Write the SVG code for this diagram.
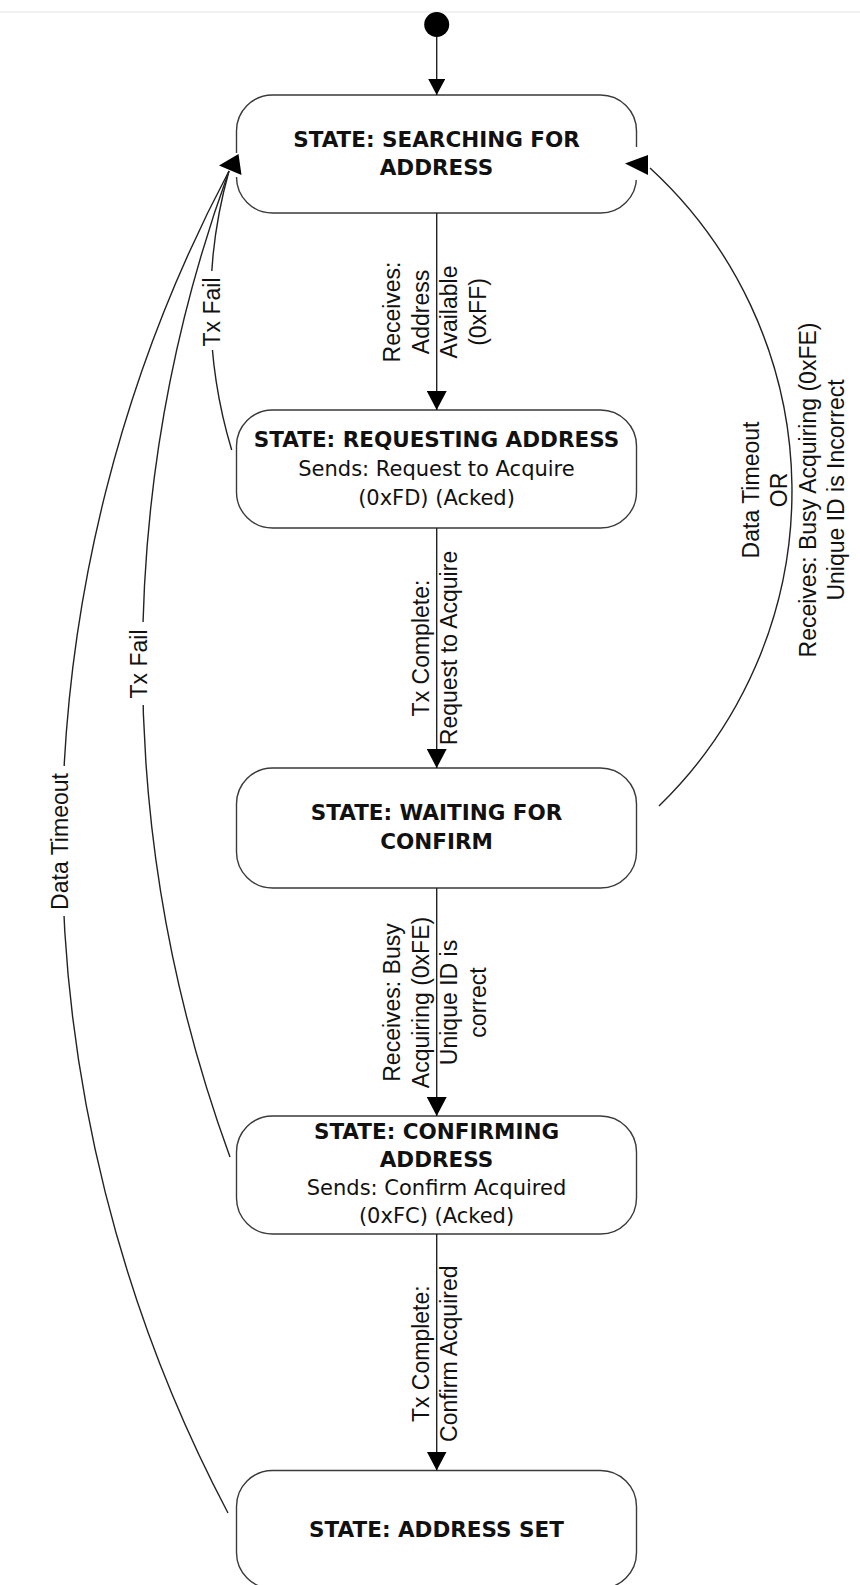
<svg xmlns="http://www.w3.org/2000/svg" width="860" height="1585" viewBox="0 0 860 1585">
  <defs>
    <style>
      .state{fill:#fff;stroke:#3a3a3a;stroke-width:1.4}
      .title{font-family:"DejaVu Sans",Verdana,sans-serif;font-weight:bold;font-size:21.5px;fill:#111;text-anchor:middle}
      .body{font-family:"DejaVu Sans",Verdana,sans-serif;font-size:21px;fill:#111;text-anchor:middle}
      .edge{fill:none;stroke:#222;stroke-width:1.4}
      .lbl{font-family:"Liberation Sans",Arial,sans-serif;font-size:23px;fill:#111;text-anchor:middle}
      .head{fill:#000}
      .knock{stroke:#fff;stroke-width:3}
    </style>
    <marker id="arrow" markerUnits="userSpaceOnUse" markerWidth="19" markerHeight="20" refX="19" refY="10" orient="auto" viewBox="0 0 19 20">
      <path d="M0,0 L19,10 L0,20 z" fill="#000"/>
    </marker>
    <marker id="arrowSmall" markerUnits="userSpaceOnUse" markerWidth="16" markerHeight="17" refX="16" refY="8.5" orient="auto" viewBox="0 0 16 17">
      <path d="M0,0 L16,8.5 L0,17 z" fill="#000"/>
    </marker>
  </defs>

  <rect x="0" y="0" width="860" height="1585" fill="#fff"/>
  <line x1="0" y1="12" x2="860" y2="12" stroke="#ececec" stroke-width="1.5"/>

  <!-- initial pseudo-state -->
  <g id="initial">
    <circle cx="436.7" cy="24.5" r="12.5" fill="#000"/>
  </g>

  <!-- states -->
  <g id="searching">
    <rect class="state" x="236.5" y="95" width="400" height="118" rx="36"/>
    <text class="title" x="436.5" y="146.7">STATE: SEARCHING FOR</text>
    <text class="title" x="436.5" y="174.5">ADDRESS</text>
  </g>
  <g id="requesting">
    <rect class="state" x="236.5" y="410" width="400" height="118" rx="36"/>
    <text class="title" x="436.5" y="446.7">STATE: REQUESTING ADDRESS</text>
    <text class="body" x="436.5" y="476">Sends: Request to Acquire</text>
    <text class="body" x="436.5" y="505">(0xFD) (Acked)</text>
  </g>
  <g id="waiting">
    <rect class="state" x="236.5" y="768" width="400" height="120" rx="36"/>
    <text class="title" x="436.5" y="820">STATE: WAITING FOR</text>
    <text class="title" x="436.5" y="849">CONFIRM</text>
  </g>
  <g id="confirming">
    <rect class="state" x="236.5" y="1116" width="400" height="118" rx="36"/>
    <text class="title" x="436.5" y="1139.3">STATE: CONFIRMING</text>
    <text class="title" x="436.5" y="1167.3">ADDRESS</text>
    <text class="body" x="436.5" y="1195">Sends: Confirm Acquired</text>
    <text class="body" x="436.5" y="1223.3">(0xFC) (Acked)</text>
  </g>
  <g id="address-set">
    <rect class="state" x="236.5" y="1470.5" width="400" height="118" rx="36"/>
    <text class="title" x="436.5" y="1537.3">STATE: ADDRESS SET</text>
  </g>

  <!-- transitions -->
  <g id="connectors">
    <line class="edge" x1="436.7" y1="37" x2="436.7" y2="95" marker-end="url(#arrowSmall)"/>
    <line class="edge" x1="436.7" y1="213" x2="436.7" y2="410" marker-end="url(#arrow)"/>
    <line class="edge" x1="436.7" y1="528" x2="436.7" y2="768" marker-end="url(#arrow)"/>
    <line class="edge" x1="436.7" y1="888" x2="436.7" y2="1116" marker-end="url(#arrow)"/>
    <line class="edge" x1="436.7" y1="1234" x2="436.7" y2="1470.5" marker-end="url(#arrow)"/>

    <!-- returns to SEARCHING, left side -->
    <path class="edge" d="M231.7,450 A500,500 0 0 1 229,171"/>
    <path class="edge" d="M230,1157 A1440,1440 0 0 1 229,171"/>
    <path class="edge" d="M228,1513 A1436,1436 0 0 1 229,171"/>
    <line class="knock" x1="236.5" y1="153" x2="236.5" y2="177"/>
    <polygon class="head" points="238.5,154 219,165.5 241.5,175"/>

    <!-- return to SEARCHING, right side -->
    <path class="edge" d="M659,806 A439,439 0 0 0 650,168"/>
    <line class="knock" x1="636.5" y1="147" x2="636.5" y2="180"/>
    <polygon class="head" points="625,163.5 648,155 648,175"/>

    <!-- labels -->
    <g class="lbl" transform="translate(0,312) rotate(-90)">
      <text class="lbl" y="400.3">Receives:</text>
      <text class="lbl" y="428.8">Address</text>
      <text class="lbl" y="457.3">Available</text>
      <text class="lbl" y="485.8">(0xFF)</text>
    </g>
    <g transform="translate(0,648) rotate(-90)">
      <text class="lbl" y="428.8">Tx Complete:</text>
      <text class="lbl" y="457.3">Request to Acquire</text>
    </g>
    <g transform="translate(0,1002.5) rotate(-90)">
      <text class="lbl" y="400.3">Receives: Busy</text>
      <text class="lbl" y="428.8">Acquiring (0xFE)</text>
      <text class="lbl" y="457.3">Unique ID is</text>
      <text class="lbl" y="485.8">correct</text>
    </g>
    <g transform="translate(0,1353.7) rotate(-90)">
      <text class="lbl" y="428.8">Tx Complete:</text>
      <text class="lbl" y="457.3">Confirm Acquired</text>
    </g>

    <rect x="199" y="271" width="25" height="79" fill="#fff"/>
    <g transform="translate(0,312) rotate(-90)">
      <text class="lbl" y="219.5">Tx Fail</text>
    </g>
    <rect x="126" y="622" width="25" height="83" fill="#fff"/>
    <g transform="translate(0,664) rotate(-90)">
      <text class="lbl" y="147">Tx Fail</text>
    </g>
    <rect x="46" y="766" width="26" height="150" fill="#fff"/>
    <g transform="translate(0,841.5) rotate(-90)">
      <text class="lbl" y="68">Data Timeout</text>
    </g>

    <g transform="translate(0,490) rotate(-90)">
      <text class="lbl" y="758.5">Data Timeout</text>
      <text class="lbl" y="787">OR</text>
      <text class="lbl" y="815.5">Receives: Busy Acquiring (0xFE)</text>
      <text class="lbl" y="844">Unique ID is Incorrect</text>
    </g>
  </g>
</svg>
